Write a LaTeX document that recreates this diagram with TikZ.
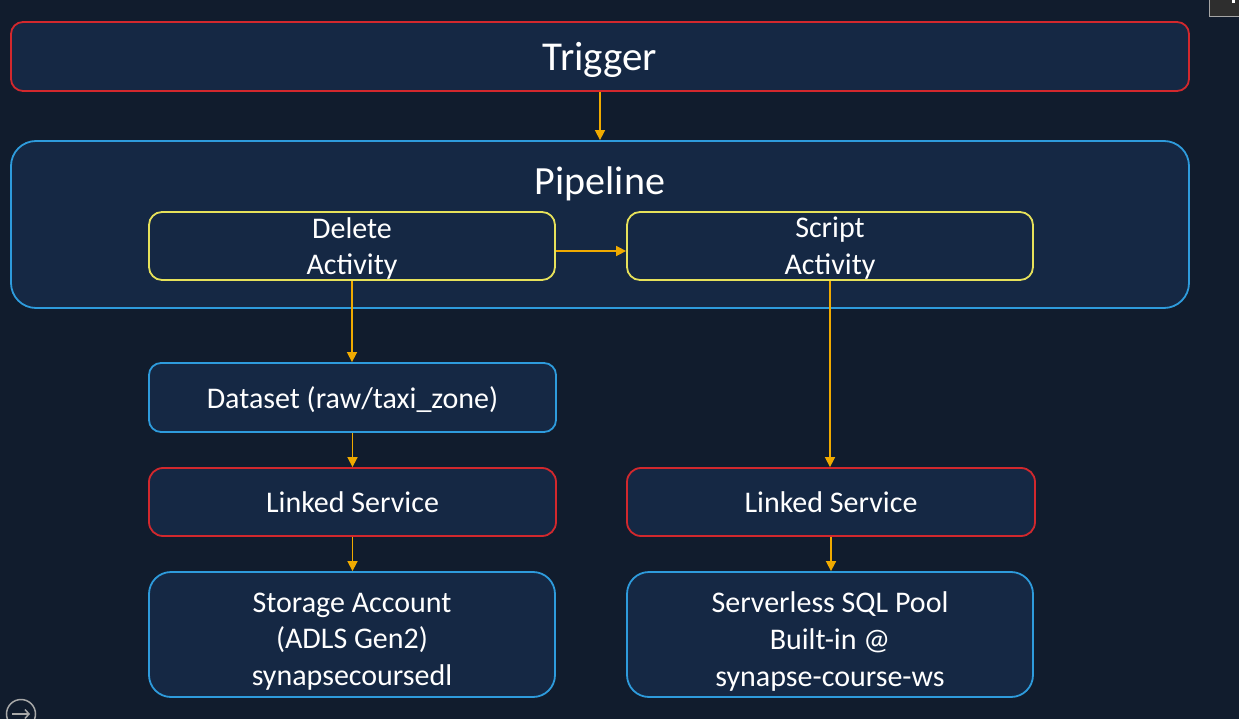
\documentclass[tikz,border=0pt]{standalone}
\usepackage{fontspec}
\setmainfont{Carlito}
\usetikzlibrary{arrows.meta}
\definecolor{bgc}{HTML}{111C2D}
\definecolor{boxc}{HTML}{152844}
\definecolor{redc}{HTML}{D2282D}
\definecolor{bluec}{HTML}{2E9BDC}
\definecolor{yelc}{HTML}{E6E15A}
\definecolor{orc}{HTML}{F0AA00}
\definecolor{iconc}{HTML}{A8A8A8}
\tikzset{
  basebox/.style={draw, line width=1.8pt, fill=boxc, text=white, align=center, inner sep=0pt, font=\fontsize{30}{36.8}\selectfont},
  redbox/.style={basebox, draw=redc},
  bluebox/.style={basebox, draw=bluec},
  yelbox/.style={basebox, draw=yelc},
  boxtext/.style={text=white, align=center, inner sep=0pt, font=\fontsize{30}{36.8}\selectfont},
  conn/.style={draw=orc, line width=1.6pt, -{Triangle[length=10pt,width=10pt]}}
}
\begin{document}
\begin{tikzpicture}[x=1pt,y=-1pt]
\useasboundingbox (0,0) rectangle (1239,719);
\fill[bgc] (0,0) rectangle (1239,719);
% screenshot remnants
\draw[draw=gray!70, fill={rgb,255:red,46;green,46;blue,46}, line width=1pt] (1209,-2) rectangle (1241,17);
\fill[white] (1232,0) rectangle (1235,3);
\node[draw=iconc, line width=1.5pt, circle, minimum size=29pt, inner sep=0pt] (icon) at (21,714) {};
\draw[iconc, line width=1.5pt, -{Straight Barb[length=4pt,width=9pt]}] (icon.center) ++(-9,0) -- ++(18,0);
% nodes
\node[redbox, rounded corners=12pt, minimum width=1178pt, minimum height=69pt, font=\fontsize{41}{48}\selectfont, text depth=-3pt] (trig) at (600,56.5) {Trigger};
\node[bluebox, rounded corners=25pt, minimum width=1178pt, minimum height=167pt] (pipe) at (600,224.5) {};
\node[text=white, font=\fontsize{40}{48}\selectfont, inner sep=0pt] (ptitle) at (600,184) {Pipeline};
\node[yelbox, rounded corners=13pt, minimum width=406pt, minimum height=68pt, text depth=-1pt] (del) at (352,246) {Delete\\Activity};
\node[yelbox, rounded corners=13pt, minimum width=406pt, minimum height=68pt, text depth=-1pt] (scr) at (830,246) {Script\\Activity};
\node[bluebox, rounded corners=12pt, minimum width=407pt, minimum height=69pt, text depth=-1pt] (ds) at (352.5,397.5) {Dataset (raw/taxi\_zone)};
\node[redbox, rounded corners=14pt, minimum width=407pt, minimum height=68pt] (lsl) at (352.5,502) {Linked Service};
\node[redbox, rounded corners=14pt, minimum width=408pt, minimum height=68pt] (lsr) at (831,502) {Linked Service};
\node[bluebox, rounded corners=22pt, minimum width=406pt, minimum height=125pt] (sto) at (352,634.5) {};
\node[boxtext] (stot) at (352,641.5) {Storage Account\\(ADLS Gen2)\\synapsecoursedl};
\node[bluebox, rounded corners=22pt, minimum width=406pt, minimum height=125pt] (sql) at (830,634.5) {};
\node[boxtext] (sqlt) at (830,641.5) {Serverless SQL Pool\\Built-in @\\synapse-course-ws};
% connectors
\draw[conn] (trig.south) -- (pipe.north);
\draw[conn] ([yshift=-5pt]del.east) -- ([yshift=-5pt]scr.west);
\draw[conn] (del.south) -- (del.south |- ds.north);
\draw[conn] (ds.south) -- (lsl.north);
\draw[conn] (lsl.south) -- (lsl.south |- sto.north);
\draw[conn] (scr.south) -- (scr.south |- lsr.north);
\draw[conn] (lsr.south) -- (lsr.south |- sql.north);
\end{tikzpicture}
\end{document}
